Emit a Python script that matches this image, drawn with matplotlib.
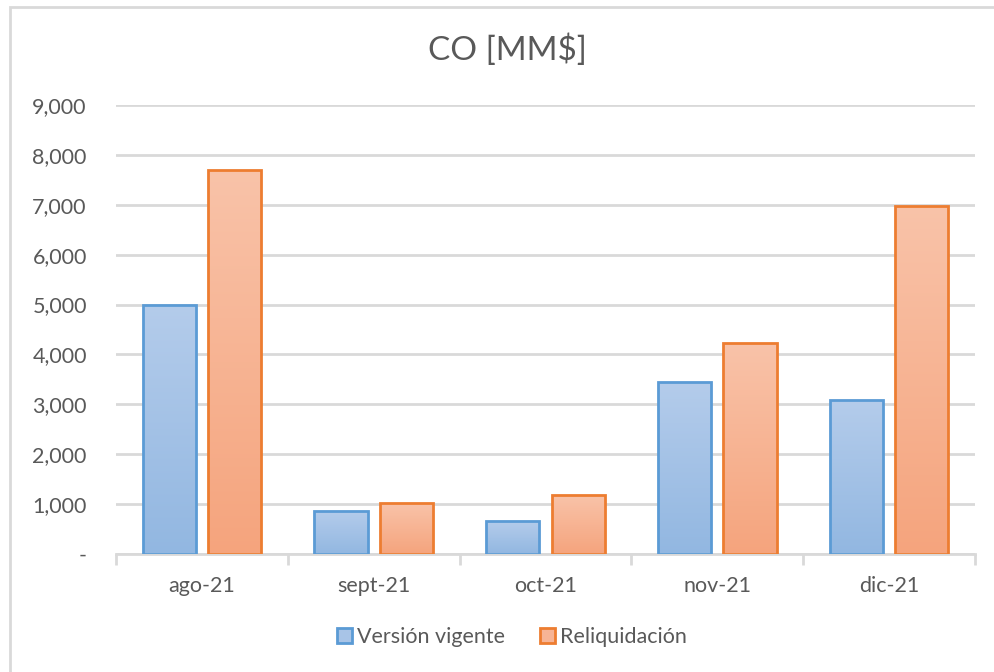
import numpy as np
import matplotlib
matplotlib.use("Agg")
import matplotlib.pyplot as plt
from matplotlib.colors import LinearSegmentedColormap
from matplotlib.patches import Rectangle, Patch

categories = ["ago-21", "sept-21", "oct-21", "nov-21", "dic-21"]
version_vigente = [5000, 860, 660, 3440, 3080]
reliquidacion = [7700, 1020, 1180, 4230, 6970]
series_names = ["Versión vigente", "Reliquidación"]
y_ticks = [0, 1000, 2000, 3000, 4000, 5000, 6000, 7000, 8000, 9000]

plt.rcParams['font.family'] = ['Lato', 'DejaVu Sans']
text_col = "#595959"
grid_col = "#d9d9d9"

fig = plt.figure(figsize=(9.95, 6.72), dpi=100)
# chart border (cropped on right/bottom in reference)
fig.patches.append(Rectangle((10 / 995, -0.05), 1.1, (672 - 7) / 672 + 0.05,
                             transform=fig.transFigure, fill=False,
                             edgecolor=grid_col, linewidth=2))

ax = fig.add_axes([116 / 995, (672 - 554) / 672, (975 - 116) / 995, (554 - 105) / 672])

x = np.arange(len(categories))
w = 0.31
off = 0.19

def gradient_bars(xs, vals, top_col, bot_col, edge_col):
    # each bar gets its own vertical gradient, light at top, darker at bottom
    cmap = LinearSegmentedColormap.from_list("g", [bot_col, top_col])
    grad = np.linspace(0, 1, 256).reshape(-1, 1)
    bars = ax.bar(xs, vals, width=w, facecolor="none", edgecolor=edge_col,
                  linewidth=2, zorder=3)
    for b in bars:
        x0 = b.get_x()
        im = ax.imshow(grad, cmap=cmap, origin="lower", aspect="auto",
                       extent=[x0, x0 + b.get_width(), 0, b.get_height()], zorder=2)
        im.set_clip_path(b)
    return bars

gradient_bars(x - off, version_vigente, "#b4cceb", "#92b7e1", "#5b9bd5")
gradient_bars(x + off, reliquidacion, "#f9c3a9", "#f5a47d", "#ed7d31")

ax.set_xlim(-0.5, len(categories) - 0.5)
ax.set_ylim(0, 9000)
ax.set_yticks(y_ticks)
ax.set_yticklabels(["-"] + [f"{v:,}" for v in y_ticks[1:]])
ax.yaxis.grid(True, color=grid_col, linewidth=2)
ax.set_axisbelow(True)
for s in ["top", "right", "left"]:
    ax.spines[s].set_visible(False)
ax.spines["bottom"].set_color(grid_col)
ax.spines["bottom"].set_linewidth(2)
ax.tick_params(axis="y", length=0, pad=21, labelsize=15.5, labelcolor=text_col)
ax.set_xticks(x)
ax.set_xticklabels(categories)
ax.tick_params(axis="x", length=0, pad=16, labelsize=15.5, labelcolor=text_col)
ax.set_xticks(np.arange(-0.5, len(categories)), minor=True)
ax.tick_params(axis="x", which="minor", length=8, width=2, color=grid_col)

fig.text(507 / 995, 1 - 50 / 672, "CO [MM$]", ha="center", va="center",
         fontsize=24, color=text_col)

handles = [Patch(facecolor="#a8c4e7", edgecolor="#5b9bd5", linewidth=2),
           Patch(facecolor="#f7b495", edgecolor="#ed7d31", linewidth=2)]
fig.legend(handles, series_names, loc="center", bbox_to_anchor=(512 / 995, 1 - 637 / 672),
           ncol=2, frameon=False, fontsize=15.5, labelcolor=text_col,
           handlelength=0.7, handleheight=0.7, handletextpad=0.25, columnspacing=1.6)

fig.savefig("out.png", dpi=100)
